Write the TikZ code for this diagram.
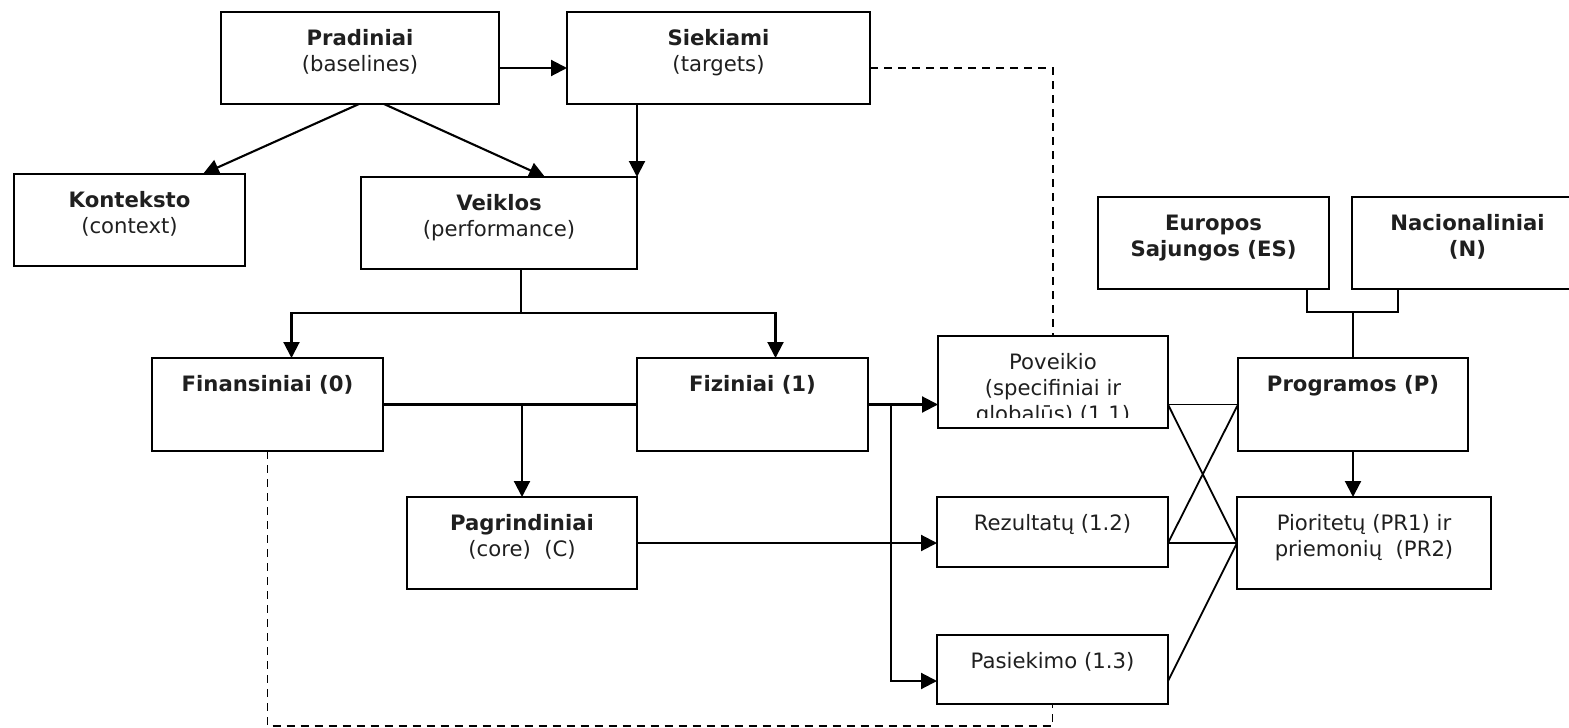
\documentclass[tikz,border=0pt]{standalone}
\usepackage{fontspec}
\setmainfont{DejaVu Sans}
\usetikzlibrary{arrows.meta,calc}
\newcommand\st{\rule{0pt}{9pt}}
\newcommand\mkbox[5]{\node[box, minimum width={(#4-#2)*0.5pt}, minimum height={(#5-#3)*0.5pt}] (#1) at (#2,#3) {};}
\tikzset{
 box/.style={draw, line width=1.25pt, anchor=north west, inner sep=0pt, outer sep=0pt},
 txt/.style={anchor=north, inner sep=0pt, align=center, text=black!88, font=\fontsize{10.6pt}{13pt}\selectfont},
 con/.style={line width=1.05pt},
 thin/.style={line width=0.9pt},
 arr/.style={con, -{Triangle[length=8pt,width=8pt]}},
 dsh/.style={line width=0.85pt, dash pattern=on 4pt off 3pt},
}
\begin{document}
\begin{tikzpicture}[x=0.5pt,y=-0.5pt]
\clip (0,0) rectangle (1569,728);
% boxes
\mkbox{pr}{221}{12}{499}{104}
\mkbox{sk}{567}{12}{870}{104}
\mkbox{ko}{14}{174}{245}{266}
\mkbox{ve}{361}{177}{637}{269}
\mkbox{fi}{152}{358}{383}{451}
\mkbox{fz}{637}{358}{868}{451}
\mkbox{pg}{407}{497}{637}{589}
\mkbox{po}{938}{336}{1168}{428}
\mkbox{re}{937}{497}{1168}{567}
\mkbox{pa}{937}{635}{1168}{704}
\mkbox{eu}{1098}{197}{1329}{289}
\mkbox{na}{1352}{197}{1583}{289}
\mkbox{pp}{1238}{358}{1468}{451}
\mkbox{pi}{1237}{497}{1491}{589}
% texts
\node[txt] (prT) at ([yshift=-7.4pt]pr.north) {\st\textbf{Pradiniai}\\(baselines)};
\node[txt] (skT) at ([yshift=-7.4pt]sk.north) {\st\textbf{Siekiami}\\(targets)};
\node[txt] (koT) at ([yshift=-7.4pt]ko.north) {\st\textbf{Konteksto}\\(context)};
\node[txt] (veT) at ([yshift=-7.4pt]ve.north) {\st\textbf{Veiklos}\\(performance)};
\node[txt] (fiT) at ([yshift=-7.4pt]fi.north) {\st\textbf{Finansiniai (0)}};
\node[txt] (fzT) at ([yshift=-7.4pt]fz.north) {\st\textbf{Fiziniai (1)}};
\node[txt] (pgT) at ([yshift=-7.4pt]pg.north) {\st\textbf{Pagrindiniai}\\(core)\ \ (C)};
\begin{scope}
\clip (po.north west) rectangle (1168,417);
\node[txt] (poT) at ([yshift=-7.4pt]po.north) {\st Poveikio\\(specifiniai ir\\globalūs) (1.1)};
\end{scope}
\node[txt] (reT) at ([yshift=-7.4pt]re.north) {\st Rezultatų (1.2)};
\node[txt] (paT) at ([yshift=-7.4pt]pa.north) {\st Pasiekimo (1.3)};
\node[txt] (euT) at ([yshift=-7.4pt]eu.north) {\st\textbf{Europos}\\\textbf{Sajungos (ES)}};
\node[txt] (naT) at ([yshift=-7.4pt]na.north) {\st\textbf{Nacionaliniai}\\\textbf{(N)}};
\node[txt] (ppT) at ([yshift=-7.4pt]pp.north) {\st\textbf{Programos (P)}};
\node[txt] (piT) at ([yshift=-7.4pt]pi.north) {\st Pioritetų (PR1) ir\\priemonių\ \ (PR2)};
% connectors
\draw[arr] ([yshift=-5pt]pr.east) -- ([yshift=-5pt]sk.west);
\draw[arr] ([xshift=-0.5pt]pr.south) -- ([xshift=36.75pt]ko.north);
\draw[arr] ([xshift=12pt]pr.south) -- ([xshift=23pt]ve.north);
\draw[arr] (sk.south -| ve.north east) -- (ve.north east);
\draw[dsh] ([yshift=-5pt]sk.east) -| (po.north);
\coordinate (vb) at (521,313);
\draw[con] ([xshift=11pt]ve.south) -- (vb);
\draw[arr] (vb) -| ([xshift=12pt]fi.north);
\draw[arr] (vb) -| ([xshift=11.5pt]fz.north);
\draw[con] (fi.east) -- (fz.west);
\draw[arr] (fi.east -| pg.north) -- (pg.north);
\coordinate (vx) at (891,404.5);
\draw[arr] (fz.east) -- (fz.east -| po.west);
\draw[arr] (fz.east -| vx) |- ([yshift=-5.75pt]pa.west);
\draw[arr] (pg.east) -- (pg.east -| re.west);
\draw[thin] (pg.east -| re.east) -- (pi.west);
\draw[thin] (pg.east -| re.east) -- (pp.west);
\draw[thin] (pp.west -| po.east) -- (pp.west);
\draw[thin] (pp.west -| po.east) -- (pi.west);
\draw[thin] ([yshift=-5.75pt]pa.east) -- (pi.west);
\draw[arr] (pp.south) -- (pp.south |- pi.north);
\coordinate (jn) at (1353,312);
\draw[thin] ([xshift=46.75pt]eu.south) |- (jn) -| ([xshift=-34.75pt]na.south);
\draw[thin] (jn) -- (pp.north);
\coordinate (db) at (1052.5,726);
\draw[dsh] (fi.south) |- (db) -- (pa.south);
\end{tikzpicture}
\end{document}
